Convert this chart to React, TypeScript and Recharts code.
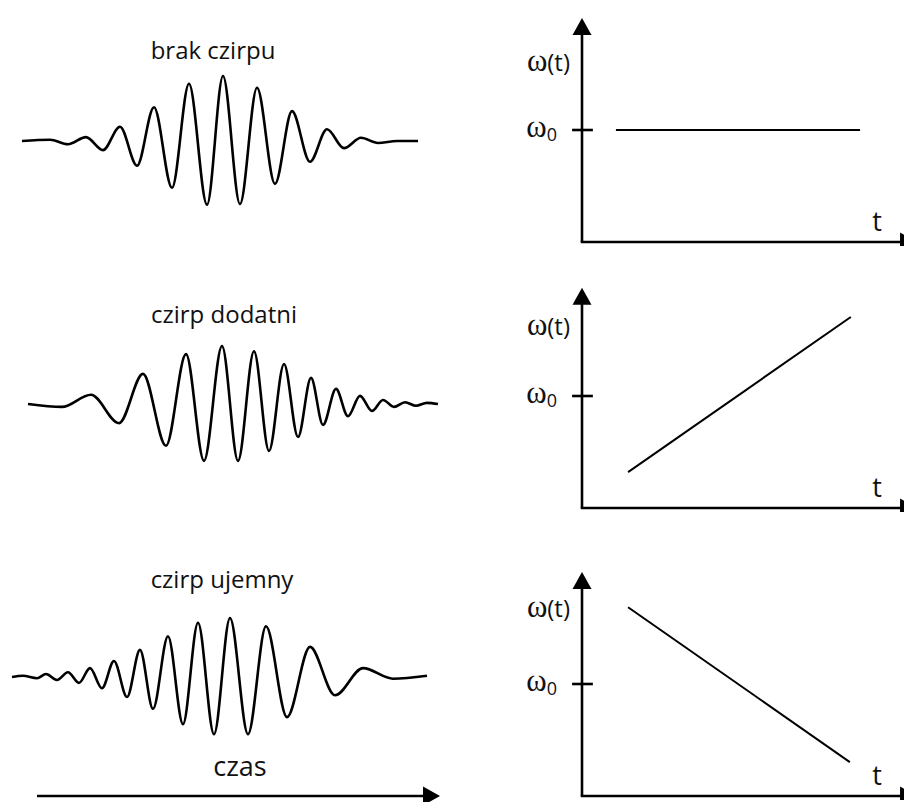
import React from "react";
import { LineChart, Line, XAxis, YAxis, ReferenceLine, ReferenceDot } from "recharts";

// Pulse envelopes: time position of each extremum and its normalised field amplitude
const noChirpT = [22, 50, 68, 86, 103, 120, 137, 154, 172, 189, 207, 223, 240, 257, 275, 292, 310, 327, 344, 361, 378, 397, 418];
const noChirpE = [0, 0.02, -0.05, 0.06, -0.14, 0.22, -0.38, 0.52, -0.72, 0.88, -0.98, 1.0, -0.97, 0.82, -0.66, 0.46, -0.32, 0.18, -0.11, 0.05, -0.03, 0, 0];

const upChirpT = [28, 62, 91, 119, 143, 166, 186, 204, 222, 238, 254, 269, 284, 298, 311, 323, 336, 348, 360, 372, 383, 394, 405, 416, 427, 438];
const upChirpE = [0, -0.05, 0.16, -0.33, 0.52, -0.72, 0.86, -0.98, 1.0, -0.98, 0.91, -0.81, 0.69, -0.57, 0.45, -0.36, 0.26, -0.21, 0.14, -0.12, 0.07, -0.05, 0.03, -0.03, 0.02, 0];

const downChirpT = [12, 23, 37, 46, 57, 68, 79, 90, 102, 114, 127, 140, 153, 168, 183, 198, 214, 230, 248, 266, 287, 310, 335, 363, 393, 427];
const downChirpE = [0, 0.02, -0.02, 0.05, -0.05, 0.08, -0.1, 0.15, -0.19, 0.27, -0.34, 0.46, -0.54, 0.69, -0.8, 0.92, -0.97, 1.0, -0.97, 0.86, -0.68, 0.51, -0.31, 0.15, -0.03, 0.02];

// Instantaneous frequency over time
const omega0 = 3.5;
const flatT = [1.06, 8.69];
const flatW = [3.5, 3.5];
const riseT = [1.44, 8.4];
const riseW = [1.12, 5.97];
const fallT = [1.44, 8.37];
const fallW = [5.9, 1.06];

const titles = ["brak czirpu", "czirp dodatni", "czirp ujemny"];

const zip = (t: number[], v: number[]) => t.map((x, i) => ({ t: x, v: v[i] }));

const SANS = "'Open Sans', sans-serif";
const SERIF = "'Liberation Serif', 'DejaVu Serif', serif";

function Pulse({ t, e, top, height }: { t: number[]; e: number[]; top: number; height: number }) {
  return (
    <div style={{ position: "absolute", left: 0, top }}>
      <LineChart width={450} height={height} data={zip(t, e)} margin={{ top: 4, right: 0, bottom: 4, left: 0 }}>
        <XAxis type="number" dataKey="t" domain={[0, 450]} hide />
        <YAxis type="number" domain={[-1, 1]} hide />
        <Line
          type="monotone"
          dataKey="v"
          stroke="#000"
          strokeWidth={2.6}
          dot={false}
          isAnimationActive={false}
        />
      </LineChart>
    </div>
  );
}

const upArrow = (p: any) => (
  <polygon points={`${p.cx},${p.cy} ${p.cx - 9.5},${p.cy + 17} ${p.cx + 9.5},${p.cy + 17}`} fill="#000" />
);
const rightArrow = (p: any) => (
  <polygon points={`${p.cx},${p.cy} ${p.cx - 17},${p.cy - 9.5} ${p.cx - 17},${p.cy + 9.5}`} fill="#000" />
);

function FreqPanel({
  t,
  w,
  axisY,
  tipW,
  labelW,
}: {
  t: number[];
  w: number[];
  axisY: number;
  tipW: number;
  labelW: number;
}) {
  const plotH = 224;
  return (
    <div style={{ position: "absolute", left: 494, top: axisY - plotH - 4 }}>
      <LineChart width={424} height={plotH + 8} data={zip(t, w)} margin={{ top: 4, right: 0, bottom: 4, left: 0 }}>
        <XAxis type="number" dataKey="t" domain={[-2.75, 10.5]} hide allowDataOverflow />
        <YAxis type="number" domain={[0, 7]} hide allowDataOverflow />
        <ReferenceLine segment={[{ x: 0, y: 0 }, { x: 0, y: tipW - 0.3 }]} stroke="#000" strokeWidth={2.6} ifOverflow="visible" />
        <ReferenceLine segment={[{ x: -0.04, y: 0 }, { x: 9.95, y: 0 }]} stroke="#000" strokeWidth={2.6} ifOverflow="visible" />
        <ReferenceLine segment={[{ x: -0.31, y: omega0 }, { x: 0.34, y: omega0 }]} stroke="#000" strokeWidth={2.6} ifOverflow="visible" />
        <ReferenceDot x={0} y={tipW} r={0} shape={upArrow} ifOverflow="visible" />
        <ReferenceDot x={10.47} y={0} r={0} shape={rightArrow} ifOverflow="visible" />
        <ReferenceDot
          x={0}
          y={omega0}
          r={0}
          ifOverflow="visible"
          shape={(p: any) => (
            <text x={p.cx - 25} y={p.cy + 7} textAnchor="end" fill="#111">
              <tspan fontFamily={SERIF} fontSize={31}>ω</tspan>
              <tspan fontFamily={SANS} fontSize={18} dy={4}>0</tspan>
            </text>
          )}
        />
        <ReferenceDot
          x={0}
          y={labelW}
          r={0}
          ifOverflow="visible"
          shape={(p: any) => (
            <text x={p.cx - 12} y={p.cy} textAnchor="end" fill="#111" fontFamily={SANS}>
              <tspan fontFamily={SERIF} fontSize={31}>ω</tspan>
              <tspan fontSize={24}>(t)</tspan>
            </text>
          )}
        />
        <ReferenceDot
          x={9.22}
          y={0}
          r={0}
          ifOverflow="visible"
          shape={(p: any) => (
            <text x={p.cx} y={p.cy - 11} textAnchor="middle" fontSize={27} fill="#111" fontFamily={SANS}>
              t
            </text>
          )}
        />
        <Line
          type="linear"
          dataKey="v"
          stroke="#000"
          strokeWidth={2}
          dot={false}
          isAnimationActive={false}
        />
      </LineChart>
    </div>
  );
}

export default function App() {
  return (
    <div
      style={{
        position: "fixed",
        left: 0,
        top: 0,
        width: 904,
        height: 802,
        overflow: "hidden",
        background: "#fff",
      }}
    >
      <Pulse t={noChirpT} e={noChirpE} top={72} height={138} />
      <Pulse t={upChirpT} e={upChirpE} top={342} height={124} />
      <Pulse t={downChirpT} e={downChirpE} top={614} height={126} />

      <FreqPanel t={flatT} w={flatW} axisY={242} tipW={7} labelW={5.34} />
      <FreqPanel t={riseT} w={riseW} axisY={508} tipW={6.88} labelW={5.4} />
      <FreqPanel t={fallT} w={fallW} axisY={796} tipW={7} labelW={5.6} />

      <svg width={904} height={802} style={{ position: "absolute", left: 0, top: 0, pointerEvents: "none" }}>
        <g fontFamily={SANS} fontSize={24} fill="#111" textAnchor="middle">
          <text x={213} y={59}>{titles[0]}</text>
          <text x={224} y={323}>{titles[1]}</text>
          <text x={222} y={588}>{titles[2]}</text>
          <text x={240} y={776} fontSize={27}>czas</text>
        </g>
        <line x1={37} y1={796} x2={424} y2={796} stroke="#000" strokeWidth={2.6} />
        <polygon points="440,796 423,786.5 423,805.5" fill="#000" />
      </svg>
    </div>
  );
}
